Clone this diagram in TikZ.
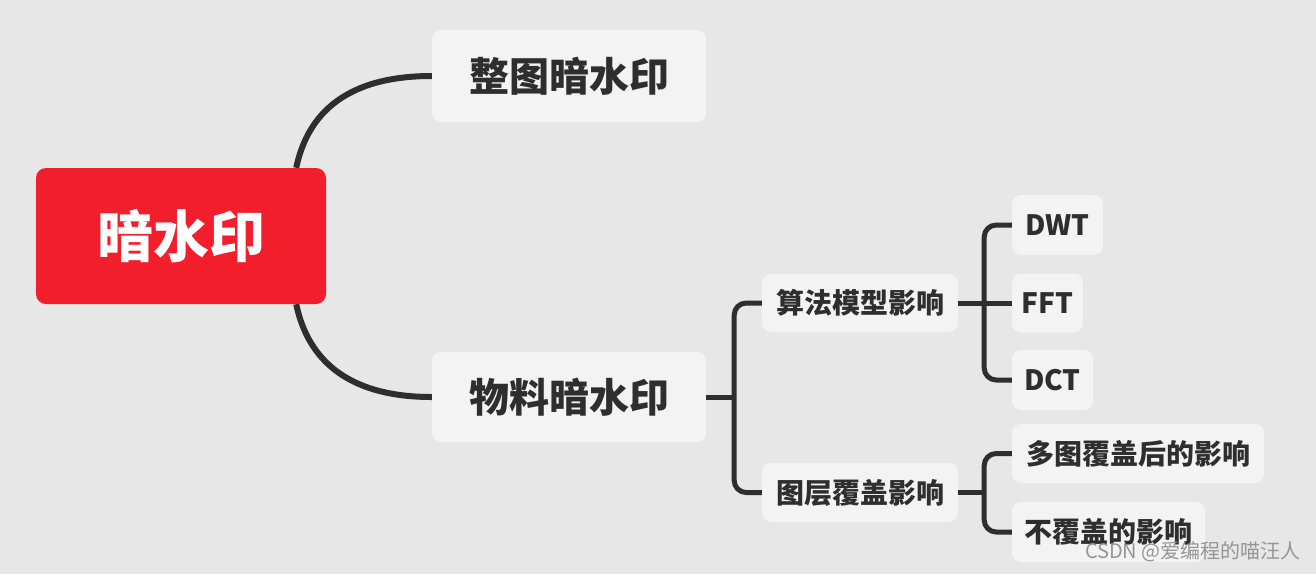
\documentclass[tikz,border=0pt]{standalone}
\usepackage{fontspec}
\newfontfamily\cjk{Noto Sans CJK SC}
\usetikzlibrary{calc}
\definecolor{bg}{HTML}{E7E7E7}
\definecolor{boxc}{HTML}{F3F3F3}
\definecolor{rootred}{HTML}{F21E2C}
\definecolor{ink}{HTML}{2E2E2E}
\definecolor{wm}{HTML}{959595}
\tikzset{
  box/.style={fill=boxc, rounded corners=9pt, inner sep=0pt, text=ink, font=\cjk\bfseries},
  rootbox/.style={fill=rootred, rounded corners=10pt, inner sep=0pt, text=white, font=\cjk\bfseries\fontsize{56}{60}\selectfont},
  bigtext/.style={font=\cjk\bfseries\fontsize{40}{46}\selectfont},
  smalltext/.style={font=\cjk\bfseries\fontsize{28}{32}\selectfont},
  conn/.style={draw=ink, line width=6pt},
  subconn/.style={draw=ink, line width=5pt, rounded corners=12pt}
}
\begin{document}
\begin{tikzpicture}[x=1pt,y=-1pt]
\fill[bg] (0,0) rectangle (1316,574);
\useasboundingbox (0,0) rectangle (1316,574);

\node[rootbox, minimum width=290pt, minimum height=136pt] (root) at (181,236) {暗水印};
\node[box, bigtext, minimum width=274pt, minimum height=92pt] (zhengtu) at (569,76) {整图暗水印};
\node[box, bigtext, minimum width=274pt, minimum height=90pt] (wuliao) at (569,397) {物料暗水印};
\node[box, smalltext, minimum width=196pt, minimum height=58pt] (suanfa) at (860,303) {算法模型影响};
\node[box, smalltext, minimum width=196pt, minimum height=59pt] (tuceng) at (860,492.5) {图层覆盖影响};
\node[box, smalltext, minimum width=91pt, minimum height=60pt] (dwt) at (1057.5,225) {DWT};
\node[box, smalltext, minimum width=71pt, minimum height=59pt] (fft) at (1047.5,303) {FFT};
\node[box, smalltext, minimum width=81pt, minimum height=60pt] (dct) at (1052.5,380) {DCT};
\node[box, smalltext, minimum width=252pt, minimum height=59pt] (duotu) at (1138,453.5) {多图覆盖后的影响};
\node[box, smalltext, minimum width=193pt, minimum height=60pt] (bufugai) at (1108.5,532) {不覆盖的影响};

% root connectors
\draw[conn] ($(root.north east)+(-30,0)$) .. controls (308,112) and (348,76) .. (zhengtu.west);
\draw[conn] ($(root.south east)+(-30,0)$) .. controls (308,360) and (348,397) .. (wuliao.west);

% wuliao branch
\coordinate (j1) at ($(wuliao.east)+(28,0)$);
\draw[subconn] (suanfa.west) -| (j1) |- (tuceng.west);
\draw[subconn] (wuliao.east) -- (j1);

% suanfa branch
\coordinate (j2) at ($(suanfa.east)+(26,0)$);
\draw[subconn] (dwt.west) -| (j2) |- (dct.west);
\draw[subconn] (suanfa.east) -- (fft.west);

% tuceng branch
\coordinate (j3) at ($(tuceng.east)+(26,0)$);
\draw[subconn] (duotu.west) -| (j3) |- (bufugai.west);
\draw[subconn] (tuceng.east) -- (j3);

\node[anchor=east, inner sep=0pt, text=wm, font=\cjk\fontsize{20}{22}\selectfont] (wmark) at (1301,552) {CSDN @爱编程的喵汪人};
\end{tikzpicture}
\end{document}
